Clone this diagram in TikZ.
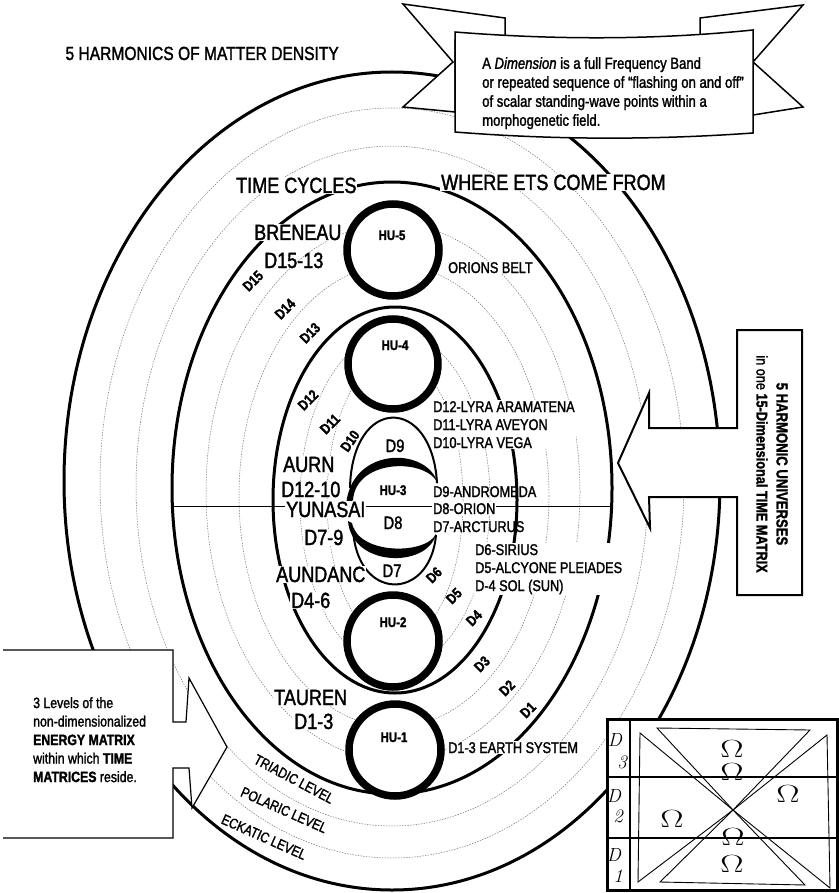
\documentclass[tikz,border=0pt]{standalone}
\usepackage{fontspec}
\usepackage{tikz}
\newfontfamily\cond[FakeStretch=0.82, FakeBold=1.6]{Liberation Sans}
\tikzset{
  dimline/.style={black!55, line width=0.5pt, dash pattern=on 1.4pt off 1.3pt},
  bandline/.style={line width=3pt},
  hucircle/.style={line width=7.5pt, fill=white},
  wipe/.style={fill=white},
  biglbl/.style={font=\cond\fontsize{22}{24}\selectfont, inner sep=1pt},
  midlbl/.style={font=\cond\fontsize{15.5}{18}\selectfont, inner sep=1pt},
  hulbl/.style={font=\cond\bfseries\fontsize{14}{17}\selectfont, inner sep=1pt},
  lenslbl/.style={font=\cond\fontsize{18}{20}\selectfont, inner sep=1pt},
  dimlbl/.style={font=\cond\bfseries\fontsize{14.5}{16}\selectfont, inner sep=0.3pt, fill=white, rotate=45},
  levellbl/.style={font=\cond\fontsize{14.5}{16}\selectfont, inner sep=0.3pt, fill=white},
  omega/.style={font=\fontsize{24}{24}\selectfont, inner sep=0pt},
  hand/.style={font=\itshape\fontsize{19}{20}\selectfont, inner sep=0pt},
}
\begin{document}
\begin{tikzpicture}[x=1pt, y=-1pt]
\useasboundingbox (0,0) rectangle (838,893);

% dimension bands
\foreach \cx/\cy/\a/\b in {392/483/292/375, 392/486/256/340, 393/492/187/268,
                           394/496/155/231, 395/500/95/168, 395/500/68/143}
  \draw[dimline] (\cx,\cy) ellipse [x radius=\a, y radius=\b];

% harmonic shells
\draw[bandline] (392,481) ellipse [x radius=328, y radius=409];
\draw[bandline] (392,488) ellipse [x radius=220, y radius=306];
\draw[bandline] (395,500) ellipse [x radius=122, y radius=193];

\coordinate (midl) at (172,506);
\coordinate (midr) at (613,506);
\draw[line width=1pt] (midl) -- (midr);

% harmonic universes
\draw[hucircle] (393,250) circle [radius=46];
\draw[hucircle] (393,364) circle [radius=45];
\draw[hucircle] (393,641) circle [radius=46];
\draw[hucircle] (395,750) circle [radius=46];

\fill (346,506) .. controls (350,446) and (428,446) .. (438,484)
      .. controls (428,458) and (356,458) .. (353,500) -- cycle;
\fill (348,521) .. controls (352,568) and (428,568) .. (436,534)
      .. controls (426,555) and (358,555) .. (352,523) -- cycle;
\draw[line width=2pt] (350,488) .. controls (352,395) and (432,395) .. (437,483);
\draw[line width=2pt] (353,528) .. controls (356,602) and (430,602) .. (436,535);

\node[hulbl, anchor=base] (hu5) at (392,240) {HU-5};
\node[hulbl, anchor=base] (hu4) at (395,350) {HU-4};
\node[hulbl, anchor=base] (hu3) at (393,495) {HU-3};
\node[hulbl, anchor=base] (hu2) at (393,627) {HU-2};
\node[hulbl, anchor=base] (hu1) at (394,742) {HU-1};
\node[lenslbl, anchor=base] (d9) at (395,452) {D9};
\node[lenslbl, anchor=base] (d8) at (393,529) {D8};
\node[lenslbl, anchor=base] (d7) at (392,577) {D7};

% names of the harmonics
\node[font=\cond\fontsize{19}{22}\selectfont, anchor=base west] (title) at (62,60) {5 HARMONICS OF MATTER DENSITY};
\node[biglbl, wipe, anchor=base west] (timecyc) at (235,193) {TIME CYCLES};
\node[biglbl, wipe, anchor=base west] (etsfrom) at (440,190) {WHERE ETS COME FROM};
\node[biglbl, wipe, anchor=base west] (breneau) at (253,240) {BRENEAU};
\node[biglbl, anchor=base west] (d1513) at (263,268) {D15-13};
\node[biglbl, wipe, anchor=base west] (aurn) at (282,472) {AURN};
\node[biglbl, wipe, anchor=base west] (d1210) at (280,497) {D12-10};
\node[biglbl, wipe, anchor=base west] (yunasai) at (285,517) {YUNASAI};
\node[biglbl, wipe, anchor=base west] (d79) at (303,545) {D7-9};
\node[biglbl, wipe, anchor=base west] (aundanc) at (275,582) {AUNDANC};
\node[biglbl, wipe, anchor=base west] (d46) at (290,608) {D4-6};
\node[biglbl, wipe, anchor=base west] (tauren) at (273,705) {TAUREN};
\node[biglbl, wipe, anchor=base west] (d13) at (293,729) {D1-3};

% where the ETs come from
\node[midlbl, wipe, anchor=base west] (orion5) at (447,273) {ORIONS BELT};
\node[midlbl, wipe, anchor=north west, align=left] (lyra) at (432,400)
  {D12-LYRA ARAMATENA\\D11-LYRA AVEYON\\D10-LYRA VEGA};
\node[midlbl, anchor=base west] (androm) at (432,497) {D9-ANDROMEDA};
\node[midlbl, wipe, anchor=base west] (orion) at (432,514) {D8-ORION};
\node[midlbl, anchor=base west] (arct) at (432,532) {D7-ARCTURUS};
\node[midlbl, wipe, anchor=north west, align=left] (sirius) at (474,543)
  {D6-SIRIUS\\D5-ALCYONE PLEIADES\\D-4 SOL (SUN)};
\node[midlbl, wipe, anchor=base west] (earth) at (447,753) {D1-3 EARTH SYSTEM};

% dimensions
\foreach \x/\y/\t in {253/281/D15, 285/309/D14, 310/333/D13, 308/400/D12, 330/424/D11,
                      434/575/D6, 454/596/D5, 474/618/D4, 482/664/D3, 507/688/D2, 528/710/D1}
  \node[dimlbl] (\t) at (\x,\y) {\t};
\node[dimlbl, rotate=10] (D10) at (350,441) {D10};

\node[levellbl, rotate=-28] (triadic) at (294,779) {TRIADIC LEVEL};
\node[levellbl, rotate=-24] (polaric) at (284,810) {POLARIC LEVEL};
\node[levellbl, rotate=-24] (eckatic) at (264,837) {ECKATIC LEVEL};

% banner
\filldraw[fill=white, line width=1.5pt] (505,40) -- (505,18) -- (403,4) -- (453,62) -- (403,107) -- (455,112) -- (455,40) -- cycle;
\filldraw[fill=white, line width=1.5pt] (700,40) -- (700,18) -- (803,5) -- (753,62) -- (803,107) -- (753,115) -- (753,40) -- cycle;
\filldraw[fill=white, line width=1.5pt] (455,32) .. controls (555,40) and (655,40) .. (753,30)
  -- (753,133) .. controls (655,140) and (555,140) .. (455,132) -- cycle;
\node[font=\cond\fontsize{16}{19}\selectfont, anchor=north west, align=left, inner sep=1pt] (dimdef) at (481,56)
  {A \textit{Dimension} is a full Frequency Band\\or repeated sequence of “flashing on and off”\\of scalar standing-wave points within a\\morphogenetic field.};

% right arrow box
\filldraw[fill=white, line width=2pt] (737,330) -- (802,330) -- (802,595) -- (737,595) -- (737,497) -- (649,497)
  -- (650,528) -- (618,463) -- (649,393) -- (649,428) -- (737,428) -- cycle;
\node[rotate=-90, align=center, inner sep=0pt, font=\cond\fontsize{15.5}{20}\selectfont] (matrix) at (772,464)
  {{\bfseries\fontsize{16}{20}\selectfont 5 HARMONIC UNIVERSES}\\in one \textbf{15-Dimensional TIME MATRIX}};

% left arrow box
\fill[white] (0,650) -- (173,650) -- (173,722) -- (186,722) -- (189,678) -- (227,747) -- (192,808)
  -- (189,768) -- (173,768) -- (173,838) -- (0,838) -- cycle;
\draw[line width=1.2pt] (3,650) -- (173,650) -- (173,722) -- (186,722) -- (189,678) -- (227,747) -- (192,808)
  -- (189,768) -- (173,768) -- (173,838) -- (3,838);
\node[font=\cond\fontsize{15}{18.5}\selectfont, anchor=north west, align=left, inner sep=1pt] (levels) at (32,696)
  {3 Levels of the\\non-dimensionalized\\\textbf{ENERGY MATRIX}\\within which \textbf{TIME}\\\textbf{MATRICES} reside.};

% triad box
\filldraw[fill=white, line width=3pt] (607,719) rectangle (837,890);
\draw[line width=2pt] (630,719) -- (630,890);
\draw[line width=1.2pt] (607,777) -- (837,777);
\draw[line width=1.2pt] (607,838) -- (837,838);
\coordinate (cross) at (733,810);
\draw[line width=0.9pt] (657,728) -- (810,730) -- (cross) -- cycle;
\draw[line width=0.9pt] (660,882) -- (805,885) -- (cross) -- cycle;
\draw[line width=0.9pt] (640,733) -- (638,882) -- (cross) -- cycle;
\draw[line width=0.9pt] (827,735) -- (830,888) -- (cross) -- cycle;
\foreach \x/\y/\n in {732/749/1, 732/772/2, 788/794/3, 672/819/4, 733/837/5, 732/864/6}
  \node[omega] (om\n) at (\x,\y) {\scalebox{1.4}[1]{$\Omega$}};
\node[hand] (dd3) at (615,740) {D};
\node[hand] (nn3) at (622,762) {3};
\node[hand] (dd2) at (614,796) {D};
\node[hand] (nn2) at (618,816) {2};
\node[hand] (dd1) at (614,855) {D};
\node[hand] (nn1) at (618,876) {1};
\end{tikzpicture}
\end{document}
